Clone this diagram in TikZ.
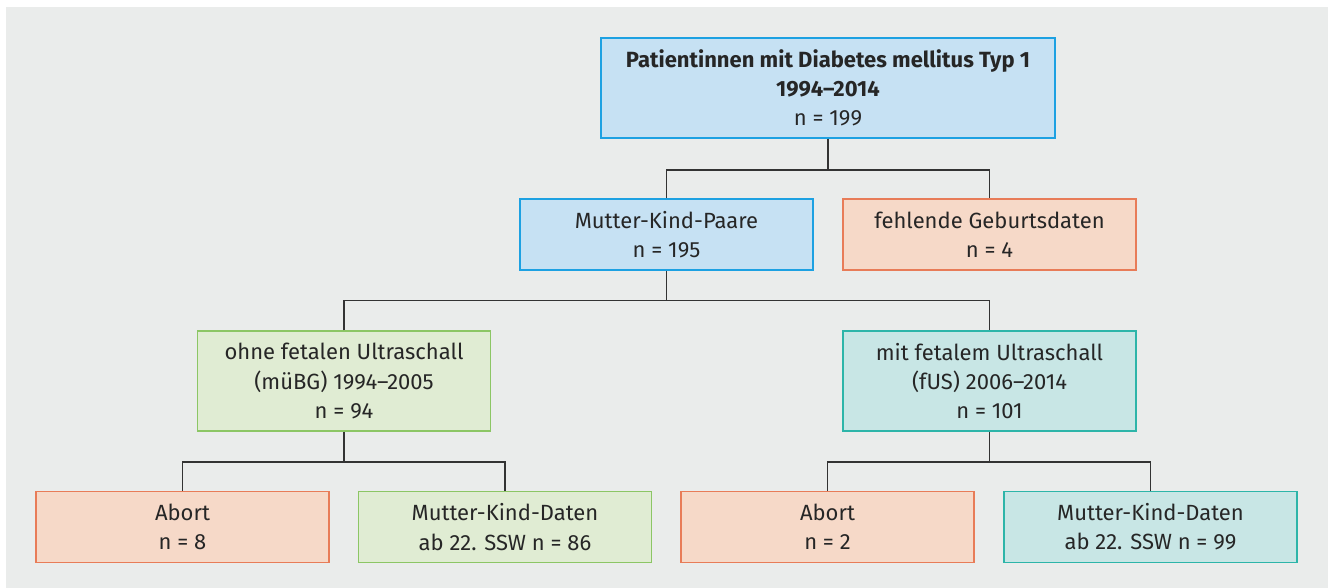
\documentclass[tikz,border=0pt]{standalone}
\usepackage{fontspec}
\setmainfont{Fira Sans}
\definecolor{bgGray}{RGB}{234,236,235}
\definecolor{lineGray}{RGB}{51,51,51}
\definecolor{blueFill}{RGB}{198,225,243}
\definecolor{blueLine}{RGB}{29,161,226}
\definecolor{orangeFill}{RGB}{246,217,200}
\definecolor{orangeLine}{RGB}{232,124,88}
\definecolor{greenFill}{RGB}{224,236,211}
\definecolor{greenLine}{RGB}{140,198,101}
\definecolor{tealFill}{RGB}{200,230,229}
\definecolor{tealLine}{RGB}{45,181,169}

\begin{document}
\begin{tikzpicture}
[x=0.5pt,y=-0.5pt,
  boxDecorate/.style={rectangle,line width=0.7pt,align=center,inner sep=0pt,
    minimum width=146.5pt,minimum height=35.5pt,text=black!85,
    font=\fontsize{11}{14.6}\selectfont},
  blueBox/.style={boxDecorate,draw=blueLine,fill=blueFill},
  orangeBox/.style={boxDecorate,draw=orangeLine,fill=orangeFill},
  greenBox/.style={boxDecorate,draw=greenLine,fill=greenFill},
  tealBox/.style={boxDecorate,draw=tealLine,fill=tealFill},
  greenTall/.style={greenBox,minimum height=50pt},
  tealTall/.style={tealBox,minimum height=50pt},
  lineDecorate/.style={-,draw=lineGray,line width=0.8pt}]
%% background
\useasboundingbox (0,0) rectangle (1333,588);
\fill[bgGray] (6,7) rectangle (1328,588);
%% nodes or boxes
\node (top) at (828,88) [blueBox,minimum width=227pt,minimum height=50pt]
  {\textbf{Patientinnen mit Diabetes mellitus Typ 1}\\\textbf{1994–2014}\\n = 199};
\foreach \nodename/\boxstyle/\x/\y/\code in {
  mkp/blueBox/666.5/234.7/{Mutter-Kind-Paare\\n = 195},
  fehl/orangeBox/989.5/234.7/{fehlende Geburtsdaten\\n = 4},
  ohne/greenTall/344/381/{ohne fetalen Ultraschall\\(müBG) 1994–2005\\n = 94},
  mit/tealTall/989.5/381/{mit fetalem Ultraschall\\(fUS) 2006–2014\\n = 101},
  abortA/orangeBox/182.5/527/{Abort\\n = 8},
  mkdA/greenBox/505/527/{Mutter-Kind-Daten\\ab 22. SSW n = 86},
  abortB/orangeBox/827.5/527/{Abort\\n = 2},
  mkdB/tealBox/1150.5/527/{Mutter-Kind-Daten\\ab 22. SSW n = 99}}
{
  \node (\nodename) at (\x,\y) [\boxstyle] {\code};
}
%% edges or lines
\foreach \parent/\leftnode/\rightnode/\busy in {
  top/mkp/fehl/170, mkp/ohne/mit/300.7,
  ohne/abortA/mkdA/461.7, mit/abortB/mkdB/461.7}
{
  \draw[lineDecorate] (\parent.south) -- (\parent.south |- 0,\busy);
  \draw[lineDecorate] (\leftnode.north) |- (\parent.south |- 0,\busy) -| (\rightnode.north);
};
\end{tikzpicture}
\end{document}
